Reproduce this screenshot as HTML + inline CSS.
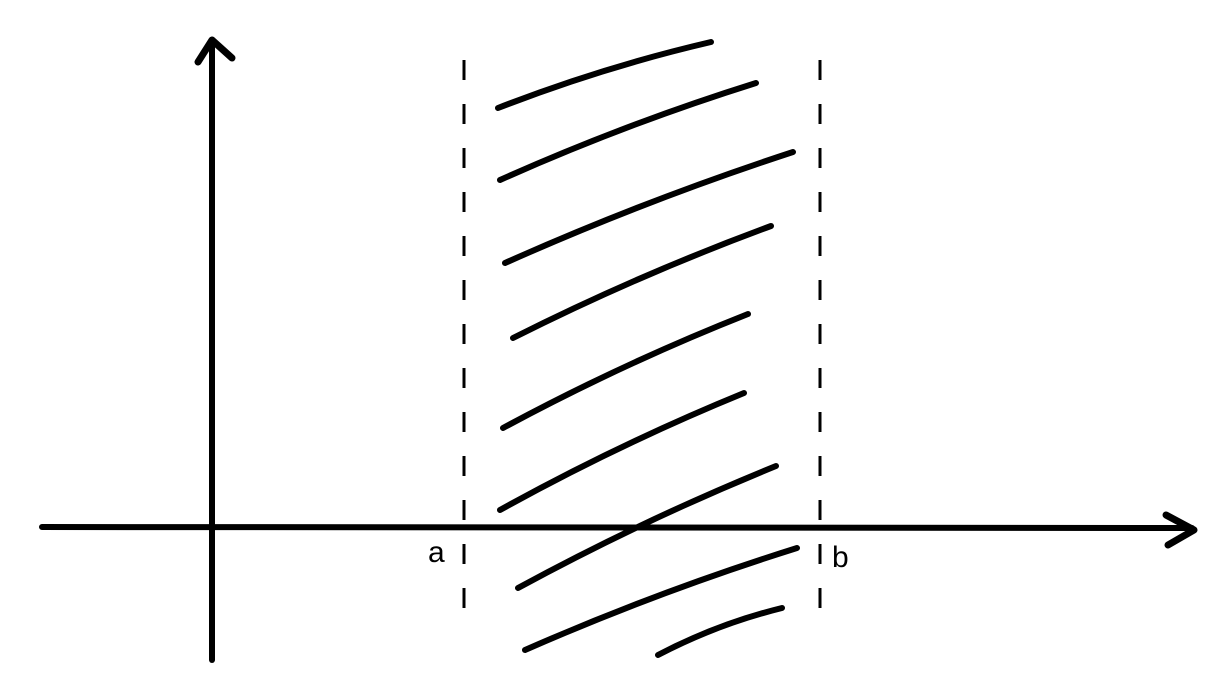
<!DOCTYPE html>
<html><head><meta charset="utf-8"><style>html,body{margin:0;padding:0;background:#fff}svg{display:block}</style></head>
<body>
<svg id="chart" width="1231" height="694" viewBox="0 0 1231 694" xmlns="http://www.w3.org/2000/svg">
<g stroke="#000" fill="none" stroke-linecap="round" stroke-linejoin="round">
<path d="M212,660 L212,42" stroke-width="6"/>
<path d="M198,62 L212,40 L232,58" stroke-width="7"/>
<path d="M42,527 L1192,528" stroke-width="6"/>
<path d="M1166,515 L1194,530 L1168,545" stroke-width="7"/>
<path d="M464,60 L464,632" stroke-width="3" stroke-dasharray="20,24" stroke-linecap="butt"/>
<path d="M820,60 L820,632" stroke-width="3" stroke-dasharray="20,24" stroke-linecap="butt"/>
<g id="hatch"></g>
</g>
<text x="428" y="562" font-family="Liberation Sans, sans-serif" font-size="30" fill="#000">a</text>
<text x="832" y="567" font-family="Liberation Sans, sans-serif" font-size="30" fill="#000">b</text>
</svg>
<script>
const startX=[498,500,505,513,503,500,518,525,658];
const startY=[108,180,263,338,428,510,588,650,655];
const endX=[711,756,793,771,748,744,776,797,782];
const endY=[42,83,152,226,314,393,466,548,608];
const g=document.getElementById('hatch');
for(let i=0;i<startX.length;i++){
  const x1=startX[i],y1=startY[i],x2=endX[i],y2=endY[i];
  const mx=(x1+x2)/2,my=(y1+y2)/2;
  const dx=x2-x1,dy=y2-y1,len=Math.hypot(dx,dy);
  const cx=mx+dy/len*-8*-1*-1, cy=my-dx/len*8;
  const p=document.createElementNS('http://www.w3.org/2000/svg','path');
  p.setAttribute('d',`M${x1},${y1} Q${mx+ (dy/len)*8},${cy} ${x2},${y2}`);
  p.setAttribute('stroke-width','6');
  
  
  g.appendChild(p);
}
</script>
</body></html>
